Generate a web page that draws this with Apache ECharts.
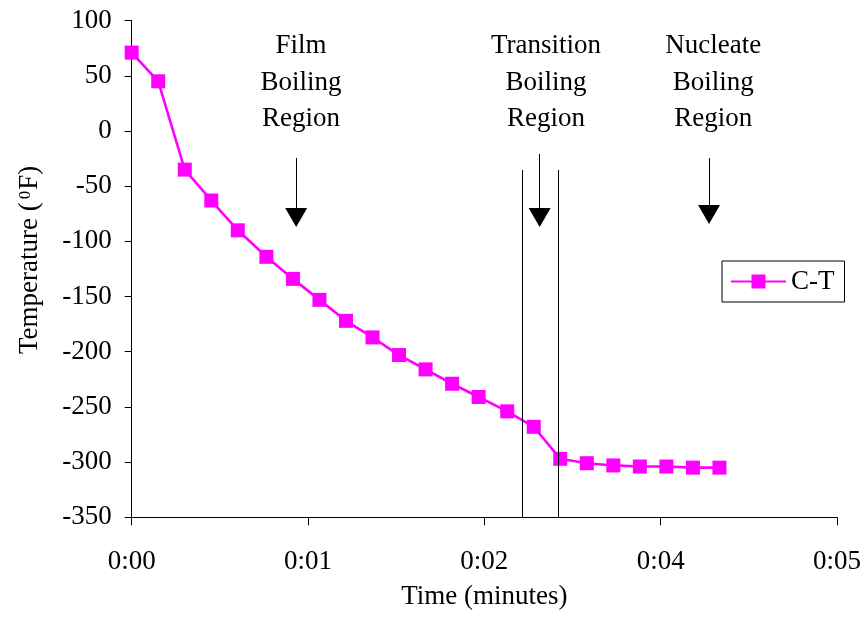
<!DOCTYPE html>
<html>
<head>
<meta charset="utf-8">
<script src="https://cdn.jsdelivr.net/npm/echarts@6/dist/echarts.min.js"></script>
<style>html,body{margin:0;padding:0;background:#fff}#c{width:864px;height:618px}</style>
</head>
<body>
<div id="c"></div>
<script>
// Time in seconds, temperature in °F (series C-T)
const timeSec = [0, 13, 26, 39, 52, 66, 79, 92, 105, 118, 131, 144, 157, 170, 184, 197, 210, 223, 236, 249, 262, 275, 288];
const tempF = [71, 45, -35, -63, -90, -114, -134, -153, -172, -187, -203, -216, -229, -241, -254, -268, -297, -301, -303, -304, -304, -305, -305];
const seriesName = 'C-T';
// Annotations (data coordinates: seconds, °F)
const regionLabels = ['Film\nBoiling\nRegion', 'Transition\nBoiling\nRegion', 'Nucleate\nBoiling\nRegion'];
const regionLabelX = [83, 203, 285];
const regionLabelY = [44, 44, 44];
const arrowX = [80.6, 199.9, 282.9];
const arrowStart = [-24.5, -20.8, -24.5];
const arrowEnd = [-78.4, -78.4, -75.6];
const boundaryX = [191.2, 208.9];
const boundaryTop = -35.3;
const boundaryBottom = -350;

const FONT = "'Liberation Serif', 'Times New Roman', serif";
const chart = echarts.init(document.getElementById('c'), null, {renderer: 'canvas'});

const pad = n => (n < 10 ? '0' : '') + n;

chart.setOption({
  animation: false,
  backgroundColor: '#fff',
  textStyle: {fontFamily: FONT},
  grid: {left: 131.7, right: 26.3, top: 20.6, bottom: 100.7, containLabel: false},
  legend: {
    data: [seriesName],
    left: 722, top: 261,
    orient: 'vertical',
    backgroundColor: '#fff',
    borderColor: '#000', borderWidth: 1,
    padding: [7, 10, 7, 8],
    itemWidth: 55, itemHeight: 17.5,
    textStyle: {fontFamily: FONT, fontSize: 27, color: '#000'}
  },
  xAxis: {
    type: 'value', min: 0, max: 345.6, interval: 86.4,
    name: 'Time (minutes)', nameLocation: 'middle', nameGap: 66,
    nameTextStyle: {fontFamily: FONT, fontSize: 27, color: '#000'},
    axisLine: {onZero: false, lineStyle: {color: '#000', width: 1}},
    axisTick: {show: true, inside: false, length: 8, lineStyle: {color: '#000'}},
    splitLine: {show: false},
    axisLabel: {
      fontFamily: FONT, fontSize: 27, color: '#000', margin: 31,
      formatter: v => Math.floor(v / 3600) + ':' + pad(Math.floor((v % 3600) / 60 + 1e-9))
    }
  },
  yAxis: {
    type: 'value', min: -350, max: 100, interval: 50,
    name: '{a|Temperature (}{s|0}{a|F)}', nameLocation: 'middle', nameGap: 88, nameRotate: 90,
    nameTextStyle: {
      color: '#000',
      padding: [0, 0, 0, 18],
      rich: {
        a: {fontFamily: FONT, fontSize: 27, color: '#000'},
        s: {fontFamily: FONT, fontSize: 17, color: '#000', verticalAlign: 'top', padding: [0, 1, 0, 3]}
      }
    },
    axisLine: {show: true, lineStyle: {color: '#000', width: 1}},
    axisTick: {show: true, inside: false, length: 7, lineStyle: {color: '#000'}},
    splitLine: {show: false},
    axisLabel: {fontFamily: FONT, fontSize: 27, color: '#000', margin: 20}
  },
  series: [
    {
      name: seriesName,
      type: 'line',
      data: timeSec.map((t, i) => [t, tempF[i]]),
      symbol: 'rect', symbolSize: 14,
      lineStyle: {color: '#ff00ff', width: 2.6},
      itemStyle: {color: '#ff00ff'},
      z: 3
    },
    {
      name: 'annotations',
      type: 'line',
      data: [],
      silent: true,
      markLine: {
        silent: true,
        animation: false,
        symbol: ['none', 'triangle'],
        symbolSize: [22, 19],
        label: {show: false},
        lineStyle: {color: '#000', width: 1, type: 'solid'},
        data: arrowX.map((x, i) => [
          {coord: [x, arrowStart[i]]},
          {coord: [x, arrowEnd[i]]}
        ])
      },
      markPoint: {
        silent: true,
        animation: false,
        symbol: 'circle', symbolSize: 1,
        itemStyle: {color: 'rgba(0,0,0,0)'},
        label: {show: true, position: 'inside', fontFamily: FONT, fontSize: 27, lineHeight: 36.5, color: '#000', align: 'center', verticalAlign: 'middle'},
        data: regionLabels.map((t, i) => ({coord: [regionLabelX[i], regionLabelY[i]], value: t, label: {formatter: t}}))
      }
    },
    {
      name: 'boundaries',
      type: 'line',
      data: [],
      silent: true,
      markLine: {
        silent: true,
        animation: false,
        symbol: ['none', 'none'],
        label: {show: false},
        lineStyle: {color: '#000', width: 1, type: 'solid'},
        data: boundaryX.map(x => [{coord: [x, boundaryTop]}, {coord: [x, boundaryBottom]}])
      }
    }
  ]
});
</script>
</body>
</html>
